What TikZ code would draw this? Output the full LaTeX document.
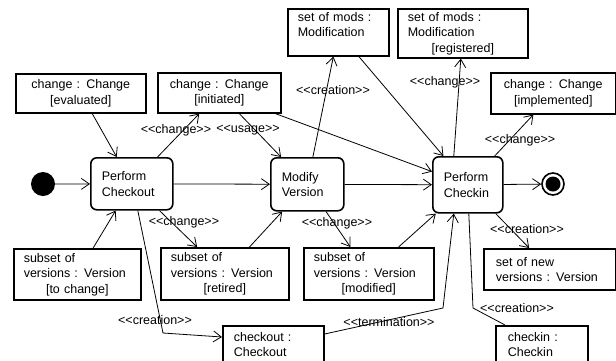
\documentclass[tikz,border=0pt]{standalone}
\usepackage{fontspec}
\newfontfamily\umlfont{Liberation Sans}
\usetikzlibrary{arrows.meta}
\newcommand{\midline}[1]{\makebox[\linewidth]{#1}}

\begin{document}
\begin{tikzpicture}[x=1pt,y=-1pt,
  umltext/.style={font=\umlfont\fontsize{12.5}{15.5}\selectfont},
  objbox/.style={umltext,draw,line width=1.6pt,anchor=north west,inner xsep=10pt,inner ysep=0pt,align=left},
  actbox/.style={umltext,draw,line width=1.6pt,rounded corners=6pt,anchor=north west,inner xsep=11pt,inner ysep=0pt,align=left},
  flow/.style={line width=0.8pt,-{Straight Barb[length=8pt,width=11pt]}},
  link/.style={line width=0.8pt},
  lbl/.style={umltext,inner sep=0pt}]
  \useasboundingbox (0,0) rectangle (616,360);
  % start and end
  \node[circle,fill=black,minimum size=24pt,inner sep=0pt] (start) at (43,184) {};
  \node[circle,draw,line width=1.6pt,minimum size=22pt,inner sep=0pt] (stop) at (553,184) {};
  \fill[black] (stop) circle (7.5pt);
  % actions
  \node[actbox,text width=60pt,minimum height=52pt] (checkout) at (90,157) {Perform\\Checkout};
  \node[actbox,text width=51pt,minimum height=53pt] (modify) at (270,157) {Modify\\Version};
  \node[actbox,text width=48pt,minimum height=56pt] (checkin) at (432,156) {Perform\\Checkin};
  % objects above
  \node[objbox,align=center,text width=110pt,minimum height=39pt] (evaluated) at (15,73) {change : Change\\{[evaluated]}};
  \node[objbox,align=center,text width=103pt,minimum height=40pt] (initiated) at (157,72) {change : Change\\{[initiated]}};
  \node[objbox,text width=81pt,minimum height=47pt,text depth=31pt] (mods) at (287,8) {set of mods :\\Modification};
  \node[objbox,text width=110pt,minimum height=49pt] (registered) at (397,8) {set of mods :\\Modification\\\midline{[registered]}};
  \node[objbox,align=center,text width=105pt,minimum height=41pt] (implemented) at (490,72) {change : Change\\{[implemented]}};
  % objects below
  \node[objbox,text width=107pt,minimum height=51pt] (tochange) at (13,248) {subset of\\versions : Version\\\midline{[to change]}};
  \node[objbox,text width=108pt,minimum height=52pt] (retired) at (160,247) {subset of\\versions : Version\\\midline{[retired]}};
  \node[objbox,text width=110pt,minimum height=52pt] (modified) at (303,247) {subset of\\versions : Version\\\midline{[modified]}};
  \node[objbox,inner xsep=12pt,text width=108pt,minimum height=41pt] (newversions) at (483,248) {set of new\\versions : Version};
  \node[objbox,inner xsep=11pt,text width=79pt,minimum height=37pt] (cobox) at (222,325) {checkout :\\Checkout};
  \node[objbox,inner xsep=12pt,text width=68pt,minimum height=37pt] (cibox) at (495,325) {checkin :\\Checkin};
  % bends
  \coordinate (cobend) at (163,333);
  \coordinate (termbend) at (443,308);
  \coordinate (cibend) at (473,308);
  % control flow
  \draw[flow] (start) -- (checkout);
  \draw[flow] (checkout) -- (modify);
  \draw[flow] (modify) -- (checkin);
  \draw[flow] (checkin) -- (stop);
  % object flow
  \draw[flow] (evaluated) -- (checkout);
  \draw[flow] (checkout) -- (initiated);
  \draw[flow] (initiated) -- (modify);
  \draw[flow] (initiated) -- (checkin);
  \draw[flow] (modify) -- (mods);
  \draw[flow] (mods) -- (checkin);
  \draw[flow] ([xshift=-14pt]checkin.north) -- ([xshift=-2pt]registered.south);
  \draw[flow] (checkin) -- (implemented);
  \draw[flow] (tochange) -- (checkout);
  \draw[flow] (checkout) -- (retired);
  \draw[flow] (retired) -- (modify);
  \draw[flow] (modify) -- (modified);
  \draw[flow] (modified) -- (checkin);
  \draw[flow] (checkin) -- (newversions);
  \draw[flow] ([xshift=6pt]checkout.south) -- (cobend) -- ([yshift=-12pt]cobox.north west);
  \draw[flow] ([yshift=-9pt]cobox.north east) -- (termbend) -- ([xshift=-14pt]checkin.south);
  \draw[link] ([xshift=1pt]checkin.south) -- (cibend) -- ([xshift=10pt]cibox.north west);
  % stereotypes
  \foreach \n/\x/\y/\t in {lchg1/176/130/change, luse/248/130/usage, lcre1/333/90/creation,
      lchg2/445/82/change, lchg3/520/140/change, lchg4/184/222/change, lchg5/337/223/change,
      lcre2/155/320/creation, lterm/389/322/termination, lcre3/527/229/creation, lcre4/517/308/creation}
    \node[lbl] (\n) at (\x,\y) {<<\t>>};
\end{tikzpicture}
\end{document}
